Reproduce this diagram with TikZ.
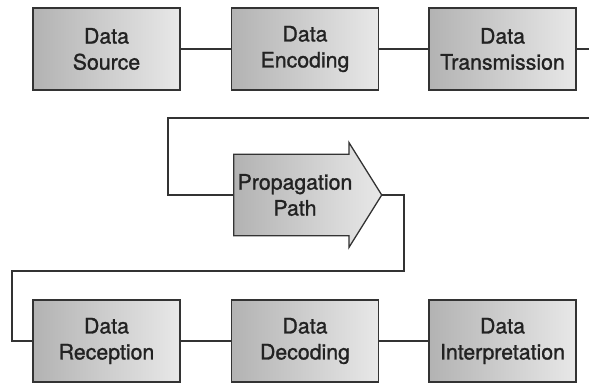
\documentclass[tikz,border=0pt]{standalone}
\usepackage{fontspec}
\setmainfont[FakeBold=1.2]{TeX Gyre Heros}
\usepackage{tikz}
\usetikzlibrary{shapes.arrows}

\definecolor{edge}{HTML}{333333}
\definecolor{ink}{HTML}{222222}

\begin{document}
\begin{tikzpicture}[x=1pt, y=-1pt,
    box/.style={draw=edge, line width=1.5pt, minimum width=147pt, minimum height=82pt, align=center,
      font=\fontsize{21.3}{26}\selectfont, text=ink, left color=black!30, right color=black!9},
    flow/.style={single arrow, draw=edge, line width=1.3pt, minimum height=148pt, minimum width=105pt,
      single arrow head extend=11.5pt, single arrow tip angle=116, inner xsep=0pt, inner ysep=18pt, align=center,
      font=\fontsize{21.3}{26}\selectfont, text=ink, left color=black!30, right color=black!9},
    wire/.style={draw=edge, line width=1.3pt}
]
\useasboundingbox (0,0) rectangle (589,383);

% top row
\node[box] (src) at (106.5,49) {Data\\Source};
\node[box] (enc) at (305,49) {Data\\Encoding};
\node[box] (trans) at (502.5,49) {Data\\Transmission};

% middle
\node[flow] (prop) at (295,195) {Propagation\\Path};

% bottom row
\node[box] (rec) at (106.5,341) {Data\\Reception};
\node[box] (dec) at (305,341) {Data\\Decoding};
\node[box] (interp) at (502.5,341) {Data\\Interpretation};

\coordinate (outR) at (589,49);
\coordinate (inR) at (589,118);

\draw[wire] (src) -- (enc);
\draw[wire] (enc) -- (trans);
\draw[wire] (trans) -- (outR);
\draw[wire] (inR) -- (168,118) |- (prop.west);
\draw[wire] (prop.tip) -| (404,271) -| (12,341) -- (rec.west);
\draw[wire] (rec) -- (dec);
\draw[wire] (dec) -- (interp);
\end{tikzpicture}
\end{document}
